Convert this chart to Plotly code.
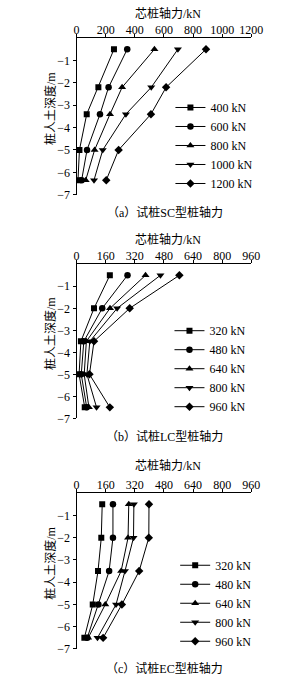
import plotly.graph_objects as go

# ---------------- data ----------------
depth_sc = [-0.5, -2.2, -3.4, -5.0, -6.35]
loads_sc = ["400 kN", "600 kN", "800 kN", "1000 kN", "1200 kN"]
sc_400 = [257, 150, 70, 20, 10]
sc_600 = [348, 220, 161, 72, 35]
sc_800 = [535, 313, 230, 124, 63]
sc_1000 = [696, 513, 339, 180, 120]
sc_1200 = [889, 615, 511, 289, 204]

depth_lc = [-0.5, -2.0, -3.5, -5.0, -6.5]
loads_lc = ["320 kN", "480 kN", "640 kN", "800 kN", "960 kN"]
lc_320 = [183, 96, 24, 14, 45]
lc_480 = [280, 141, 40, 26, 56]
lc_640 = [379, 184, 54, 42, 68]
lc_800 = [461, 223, 73, 57, 110]
lc_960 = [565, 292, 96, 71, 183]

depth_ec = [-0.5, -2.0, -3.5, -5.0, -6.5]
loads_ec = ["320 kN", "480 kN", "640 kN", "800 kN", "960 kN"]
ec_320 = [141, 136, 118, 89, 43]
ec_480 = [200, 200, 179, 120, 59]
ec_640 = [287, 283, 245, 158, 64]
ec_800 = [315, 313, 266, 217, 115]
ec_960 = [398, 397, 344, 249, 146]

x_title = "芯桩轴力/kN"
y_title = "桩人土深度/m"
captions = ["（a）试桩SC型桩轴力", "（b）试桩LC型桩轴力", "（c）试桩EC型桩轴力"]
x_ticks_sc = [0, 200, 400, 600, 800, 1000, 1200]
x_ticks_lc = [0, 160, 320, 480, 640, 800, 960]
y_ticks = [-1, -2, -3, -4, -5, -6, -7]

symbols = ["square", "circle", "triangle-up", "triangle-down", "diamond"]
sizes = [6, 6.5, 7, 7, 6.5]

W, H = 308, 684
FONT = "Liberation Serif, Noto Sans CJK SC, serif"

def py(p):
    return 1 - p / H

def px(p):
    return p / W

panels = [
    dict(depth=depth_sc, loads=loads_sc, series=[sc_400, sc_600, sc_800, sc_1000, sc_1200],
         xr=[0, 1200], xt=x_ticks_sc, top=38.5, bottom=196.7, title_y=14, cap_y=215,
         leg_x=176, leg_y=147),
    dict(depth=depth_lc, loads=loads_lc, series=[lc_320, lc_480, lc_640, lc_800, lc_960],
         xr=[0, 960], xt=x_ticks_lc, top=267, bottom=422.7, title_y=242, cap_y=441,
         leg_x=175, leg_y=372.5),
    dict(depth=depth_ec, loads=loads_ec, series=[ec_320, ec_480, ec_640, ec_800, ec_960],
         xr=[0, 960], xt=x_ticks_lc, top=498.3, bottom=655.7, title_y=470, cap_y=675,
         leg_x=181, leg_y=609.5),
]

fig = go.Figure()
layout = dict(width=W, height=H, margin=dict(l=0, r=0, t=0, b=0),
              paper_bgcolor="white", plot_bgcolor="white",
              font=dict(family=FONT, size=12, color="black"), annotations=[])

x0, x1 = 77.3, 261
for i, p in enumerate(panels):
    n = "" if i == 0 else str(i + 1)
    leg = "legend" if i == 0 else "legend" + str(i + 1)
    for j, (vals, name) in enumerate(zip(p["series"], p["loads"])):
        fig.add_trace(go.Scatter(
            x=vals, y=p["depth"], name=name, mode="lines+markers",
            xaxis="x" + n, yaxis="y" + n, legend=leg,
            line=dict(color="black", width=1),
            marker=dict(symbol=symbols[j], size=sizes[j], color="black"),
        ))
    layout["xaxis" + n] = dict(
        domain=[px(x0), px(x1)], anchor="y" + n, side="top", range=p["xr"],
        tickvals=p["xt"], ticks="outside", ticklen=3, tickcolor="black",
        ticklabelstandoff=-5,
        showline=True, linecolor="black", linewidth=1, showgrid=False, zeroline=False,
        tickfont=dict(size=12, family=FONT))
    layout["yaxis" + n] = dict(
        domain=[py(p["bottom"]), py(p["top"])], anchor="x" + n, range=[-7, 0],
        tickvals=y_ticks, ticks="outside", ticklen=3, tickcolor="black",
        showline=True, linecolor="black", linewidth=1, showgrid=False, zeroline=False,
        tickfont=dict(size=12, family=FONT))
    layout[leg] = dict(
        x=px(p["leg_x"]), y=py(p["leg_y"]), xanchor="left", yanchor="middle",
        bgcolor="rgba(0,0,0,0)", font=dict(size=12, family=FONT))
    layout["annotations"] += [
        dict(text=x_title, x=px(173), y=py(p["title_y"]), xref="paper", yref="paper",
             xanchor="center", yanchor="middle",
             showarrow=False, font=dict(size=12, family=FONT)),
        dict(text=y_title, x=px(50), y=py((p["top"] + p["bottom"]) / 2 - 8), xref="paper",
             yref="paper", xanchor="center", yanchor="middle",
             showarrow=False, textangle=-90, font=dict(size=12, family=FONT)),
        dict(text=captions[i], x=px(170), y=py(p["cap_y"]), xref="paper", yref="paper",
             xanchor="center", yanchor="middle",
             showarrow=False, font=dict(size=12, family=FONT)),
    ]

fig.update_layout(**layout)
fig.write_html("out.html")
